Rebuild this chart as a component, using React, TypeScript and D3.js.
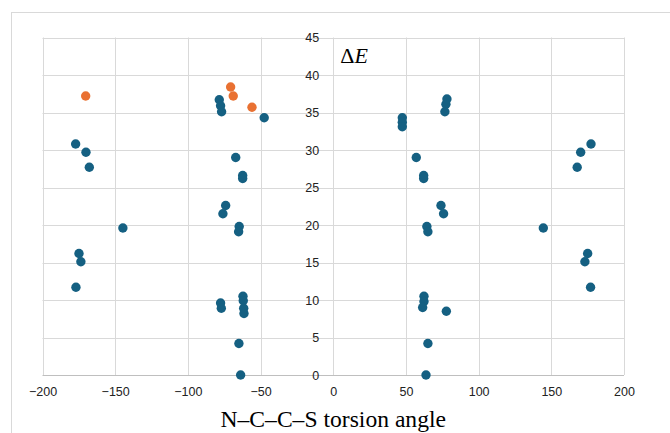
import React, { useRef, useEffect } from 'react';
import * as d3 from 'd3';

// torsion angle (deg) / relative energy
const blueAngles = [
  -78.4, -77.5, -76.8, -47.5, -177.2, -170.1, -167.8, -67.1, -62.3, -62.3,
  -74.0, -75.9, -144.7, -64.7, -65.1, -174.9, -173.6, -177.0, -77.5, -77.0,
  -62.1, -61.9, -61.6, -61.4, -64.9, -63.7,
  47.5, 47.5, 47.5, 78.2, 77.5, 76.8, 57.1, 62.2, 62.2, 74.1, 75.9, 177.3,
  170.2, 167.8, 64.4, 65.1, 144.5, 175.0, 173.1, 177.0, 62.4, 62.4, 61.5,
  77.8, 65.1, 63.8,
];
const blueEnergies = [
  36.7, 35.9, 35.1, 34.3, 30.8, 29.7, 27.7, 29.0, 26.6, 26.2,
  22.6, 21.5, 19.6, 19.8, 19.1, 16.2, 15.1, 11.7, 9.6, 8.9,
  10.5, 9.9, 8.9, 8.2, 4.2, 0,
  34.3, 33.7, 33.1, 36.8, 36.1, 35.1, 29.0, 26.6, 26.2, 22.6, 21.5, 30.8,
  29.7, 27.7, 19.8, 19.1, 19.6, 16.2, 15.1, 11.7, 10.5, 9.8, 9.0,
  8.5, 4.2, 0,
];
const orangeAngles = [-170.3, -70.6, -68.8, -55.9];
const orangeEnergies = [37.2, 38.4, 37.2, 35.7];

const xTicks = [-200, -150, -100, -50, 0, 50, 100, 150, 200];
const yTicks = [0, 5, 10, 15, 20, 25, 30, 35, 40, 45];

const WIDTH = 670;
const HEIGHT = 433;
const margin = { left: 42.5, right: 46, top: 37.5, bottom: 58 };

export default function App() {
  const svgRef = useRef<SVGSVGElement>(null);

  useEffect(() => {
    const svg = d3.select(svgRef.current);
    svg.selectAll('*').remove();

    const x = d3
      .scaleLinear()
      .domain([-200, 200])
      .range([margin.left, WIDTH - margin.right]);
    const y = d3
      .scaleLinear()
      .domain([0, 45])
      .range([HEIGHT - margin.bottom, margin.top]);

    // chart frame
    svg
      .append('rect')
      .attr('x', 11.5)
      .attr('y', 12.5)
      .attr('width', 800)
      .attr('height', 600)
      .attr('fill', '#fff')
      .attr('stroke', '#d9d9d9');

    // gridlines
    svg
      .append('g')
      .selectAll('line')
      .data(xTicks)
      .join('line')
      .attr('x1', (d) => Math.round(x(d)) + 0.5)
      .attr('x2', (d) => Math.round(x(d)) + 0.5)
      .attr('y1', y(45))
      .attr('y2', y(0))
      .attr('stroke', '#d9d9d9');
    svg
      .append('g')
      .selectAll('line')
      .data(yTicks)
      .join('line')
      .attr('x1', x(-200))
      .attr('x2', x(200))
      .attr('y1', (d) => Math.round(y(d)) + 0.5)
      .attr('y2', (d) => Math.round(y(d)) + 0.5)
      .attr('stroke', (d) => (d === 0 ? '#bfbfbf' : '#d9d9d9'));

    // x axis labels
    const xAxis = d3
      .axisBottom(x)
      .tickValues(xTicks)
      .tickSize(0)
      .tickPadding(12);
    const gx = svg
      .append('g')
      .attr('transform', `translate(0,${y(0)})`)
      .call(xAxis);
    gx.select('.domain').remove();
    gx.selectAll('text')
      .attr('font-family', '"Liberation Sans", Arial, sans-serif')
      .attr('font-size', 12.5)
      .attr('fill', '#222');

    // y axis labels sit beside the 0 line
    const yAxis = d3.axisLeft(y).tickValues(yTicks).tickSize(0).tickPadding(14);
    const gy = svg
      .append('g')
      .attr('transform', `translate(${x(0)},0)`)
      .call(yAxis);
    gy.select('.domain').remove();
    gy.selectAll('text')
      .attr('font-family', '"Liberation Sans", Arial, sans-serif')
      .attr('font-size', 12.5)
      .attr('fill', '#222');

    // points
    const blue = blueAngles.map((a, i) => [a, blueEnergies[i]]);
    const orange = orangeAngles.map((a, i) => [a, orangeEnergies[i]]);
    svg
      .append('g')
      .selectAll('circle')
      .data(blue)
      .join('circle')
      .attr('cx', (d) => x(d[0]))
      .attr('cy', (d) => y(d[1]))
      .attr('r', 4.7)
      .attr('fill', '#156082');
    svg
      .append('g')
      .selectAll('circle')
      .data(orange)
      .join('circle')
      .attr('cx', (d) => x(d[0]))
      .attr('cy', (d) => y(d[1]))
      .attr('r', 4.7)
      .attr('fill', '#E97132');

    // titles
    const de = svg
      .append('text')
      .attr('x', x(0) + 7)
      .attr('y', 62.5)
      .attr('font-family', '"Liberation Serif", "Times New Roman", serif')
      .attr('font-size', 22)
      .attr('fill', '#000');
    de.append('tspan').text('Δ');
    de.append('tspan').attr('font-style', 'italic').text('E');

    svg
      .append('text')
      .attr('x', x(0))
      .attr('y', 427)
      .attr('text-anchor', 'middle')
      .attr('font-family', '"Liberation Serif", "Times New Roman", serif')
      .attr('font-size', 23.6)
      .attr('fill', '#000')
      .text('N–C–C–S torsion angle');
  }, []);

  return (
    <svg
      ref={svgRef}
      width={WIDTH}
      height={HEIGHT}
      style={{ position: 'absolute', left: 0, top: 0, background: '#fff' }}
    />
  );
}
